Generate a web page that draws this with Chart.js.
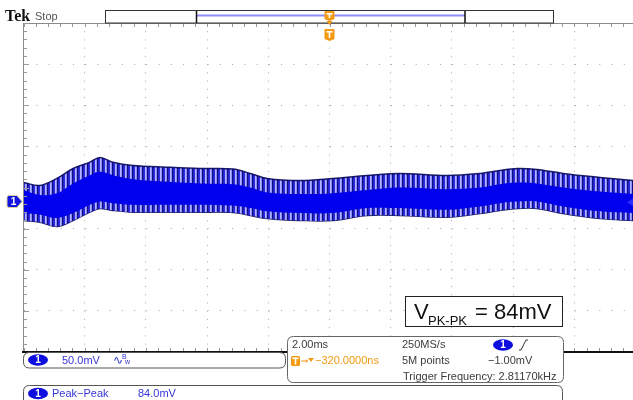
<!DOCTYPE html>
<html>
<head>
<meta charset="utf-8">
<script src="https://cdn.jsdelivr.net/npm/chart.js@4.4.1/dist/chart.umd.min.js"></script>
<style>
  html, body { margin: 0; padding: 0; background: #fff; overflow: hidden; }
  #wrap { width: 640px; height: 400px; position: relative; }
</style>
</head>
<body>
<div id="wrap"><canvas id="scope" width="640" height="400"></canvas></div>
<script>
// Channel 1 acquisition: 50 mV/div, 2 ms/div, trigger at screen centre
const CH1_OFFSET_MV = 17;        // value at the vertical centre of the screen
const TRIGGER_LEVEL_MV = -1.0;

// Time grid (ms) and voltage grid (mV)
const timeGridMs = [-10, -8, -6, -4, -2, 0, 2, 4, 6, 8, 10];
const voltGridMv = [-183, -133, -83, -33, 17, 67, 117, 167, 217];

// Ripple envelope of the channel 1 trace
const timeMs       = [-10.0, -9.46, -8.91, -8.38, -7.83, -7.50, -7.08, -6.42, -5.31, -4.23, -3.15, -2.59, -2.04, -0.96, 0.11, 1.23, 2.30, 3.84, 4.92, 5.57, 6.13, 6.78, 7.63, 8.84, 9.92];
const upperMv      = [23.1, 19.5, 28.0, 40.1, 47.8, 53.6, 47.8, 43.8, 41.7, 40.1, 39.5, 34.1, 28.0, 25.5, 28.0, 31.6, 34.1, 31.6, 34.1, 37.7, 40.1, 38.9, 34.1, 29.2, 25.5];
const lowerMv      = [-23.1, -25.2, -30.4, -23.1, -13.0, -8.5, -10.9, -13.0, -13.0, -13.0, -13.4, -17.0, -20.7, -23.1, -23.1, -17.0, -17.0, -19.1, -14.6, -10.9, -8.5, -8.5, -14.6, -20.7, -23.1];
const coreTopMv    = [14, 8, 10, 22, 32, 36, 32, 27, 24, 22, 21, 17, 11, 9, 10, 14, 17, 15, 17, 21, 23, 22, 17, 12, 9];
const coreBottomMv = [-14, -16, -20, -14, -4, 0, -2, -4, -4, -4, -5, -8, -12, -14, -14, -8, -8, -10, -6, -2, 0, 0, -6, -12, -14];

// Readouts
const chScaleText = '50.0mV';
const timebaseText = '2.00ms';
const sampleRateText = '250MS/s';
const recordText = '5M points';
const trigDelayText = '\u2212320.0000ns';
const trigLevelText = '\u22121.00mV';
const trigFreqText = 'Trigger Frequency: 2.81170kHz';
const measName = 'Peak\u2212Peak';
const measValue = '84.0mV';

const pts = arr => arr.map((v, i) => ({ x: timeMs[i], y: v }));

// vertical stripe texture for the spiky part of the trace
function stripePattern() {
  const c = document.createElement('canvas');
  c.width = 5; c.height = 1;
  const g = c.getContext('2d');
  const cols = ['#b4b4ff', '#8c8cff', '#10107e', '#2222cc', '#2c2ce4'];
  cols.forEach((col, i) => { g.fillStyle = col; g.fillRect(i, 0, 1, 1); });
  return document.getElementById('scope').getContext('2d').createPattern(c, 'repeat');
}

function roundRect(ctx, x, y, w, h, r) {
  ctx.beginPath();
  ctx.moveTo(x + r, y);
  ctx.lineTo(x + w - r, y);
  ctx.quadraticCurveTo(x + w, y, x + w, y + r);
  ctx.lineTo(x + w, y + h - r);
  ctx.quadraticCurveTo(x + w, y + h, x + w - r, y + h);
  ctx.lineTo(x + r, y + h);
  ctx.quadraticCurveTo(x, y + h, x, y + h - r);
  ctx.lineTo(x, y + r);
  ctx.quadraticCurveTo(x, y, x + r, y);
  ctx.closePath();
}

function pill(ctx, cx, cy, label) {
  ctx.fillStyle = '#0d0de0';
  ctx.beginPath();
  ctx.ellipse(cx, cy, 10, 5.8, 0, 0, Math.PI * 2);
  ctx.fill();
  ctx.fillStyle = '#fff';
  ctx.font = 'bold 10px "Liberation Sans", sans-serif';
  ctx.textAlign = 'center';
  ctx.textBaseline = 'middle';
  ctx.fillText(label, cx, cy + 0.5);
  ctx.textAlign = 'left';
}

function triggerBadge(ctx, cx, top, h) {
  ctx.fillStyle = '#f39a12';
  ctx.beginPath();
  ctx.moveTo(cx - 5, top + 1);
  ctx.quadraticCurveTo(cx - 5, top, cx - 4, top);
  ctx.lineTo(cx + 4, top);
  ctx.quadraticCurveTo(cx + 5, top, cx + 5, top + 1);
  ctx.lineTo(cx + 5, top + h - 2);
  ctx.lineTo(cx, top + h);
  ctx.lineTo(cx - 5, top + h - 2);
  ctx.closePath();
  ctx.fill();
  ctx.fillStyle = '#fff';
  ctx.fillRect(cx - 3, top + 2, 6, 1.6);
  ctx.fillRect(cx - 0.8, top + 2, 1.6, h - 5);
}

const scopeDecor = {
  id: 'scopeDecor',
  afterDraw(chart) {
    const { ctx, chartArea: a, scales: { x, y } } = chart;
    ctx.save();

    // screen frame with minor ticks
    ctx.strokeStyle = '#8a8a8a';
    ctx.lineWidth = 1;
    ctx.beginPath();
    ctx.moveTo(a.left, 23.5); ctx.lineTo(a.right, 23.5);
    ctx.moveTo(23.5, a.top); ctx.lineTo(23.5, a.bottom);
    ctx.stroke();
    ctx.strokeStyle = '#9a9a9a';
    ctx.beginPath();
    for (let t = -10; t <= 10.001; t += 0.4) {
      const px = Math.round(x.getPixelForValue(t)) + 0.5;
      ctx.moveTo(px, 24); ctx.lineTo(px, 27);
      ctx.moveTo(px, a.bottom - 4); ctx.lineTo(px, a.bottom - 1);
    }
    for (let v = voltGridMv[0]; v <= voltGridMv[voltGridMv.length - 1] + 0.1; v += 10) {
      const py = Math.round(y.getPixelForValue(v)) + 0.5;
      const major = Math.abs(((v - voltGridMv[0]) % 50)) < 0.1;
      ctx.moveTo(24, py); ctx.lineTo(major ? 29 : 27, py);
    }
    ctx.stroke();
    ctx.strokeStyle = '#111';
    ctx.lineWidth = 2;
    ctx.beginPath();
    ctx.moveTo(22, a.bottom); ctx.lineTo(a.right, a.bottom);
    ctx.stroke();

    // record view bar
    ctx.lineWidth = 1;
    ctx.fillStyle = '#fff';
    ctx.strokeStyle = '#333';
    ctx.fillRect(105.5, 10.5, 448, 12.5);
    ctx.strokeRect(105.5, 10.5, 448, 12.5);
    ctx.strokeStyle = '#8c8cf5';
    ctx.lineWidth = 2;
    ctx.beginPath(); ctx.moveTo(197, 15.5); ctx.lineTo(465, 15.5); ctx.stroke();
    ctx.strokeStyle = '#111';
    ctx.lineWidth = 1.5;
    ctx.beginPath();
    ctx.moveTo(196.5, 11); ctx.lineTo(196.5, 23);
    ctx.moveTo(465, 11); ctx.lineTo(465, 23);
    ctx.stroke();

    // trigger position markers
    const tx = x.getPixelForValue(0);
    triggerBadge(ctx, tx, 11, 10);
    ctx.fillStyle = '#f39a12';
    ctx.beginPath(); ctx.moveTo(tx - 3, 21); ctx.lineTo(tx + 3, 21); ctx.lineTo(tx, 25); ctx.closePath(); ctx.fill();
    triggerBadge(ctx, tx, 29, 12);

    // channel 1 ground marker
    const gy = y.getPixelForValue(0);
    ctx.fillStyle = '#1414e0';
    ctx.strokeStyle = '#d8cf98';
    ctx.lineWidth = 1;
    ctx.beginPath();
    ctx.moveTo(9, gy - 6); ctx.lineTo(17, gy - 6); ctx.lineTo(22, gy);
    ctx.lineTo(17, gy + 6); ctx.lineTo(9, gy + 6);
    ctx.quadraticCurveTo(7, gy + 6, 7, gy + 4); ctx.lineTo(7, gy - 4);
    ctx.quadraticCurveTo(7, gy - 6, 9, gy - 6);
    ctx.closePath(); ctx.fill(); ctx.stroke();
    ctx.fillStyle = '#fff';
    ctx.font = 'bold 10px "Liberation Sans", sans-serif';
    ctx.textAlign = 'center'; ctx.textBaseline = 'middle';
    ctx.fillText('1', 13.5, gy + 0.5);

    // trigger level marker
    const ly = y.getPixelForValue(TRIGGER_LEVEL_MV);
    ctx.fillStyle = '#2a2aff';
    ctx.beginPath(); ctx.moveTo(627, ly); ctx.lineTo(633, ly - 4); ctx.lineTo(633, ly + 4); ctx.closePath(); ctx.fill();

    // Tek / Stop
    ctx.textAlign = 'left'; ctx.textBaseline = 'alphabetic';
    ctx.fillStyle = '#111';
    ctx.font = 'bold 16px "Liberation Serif", serif';
    ctx.fillText('Tek', 5, 21);
    ctx.fillStyle = '#555';
    ctx.font = '11px "Liberation Sans", sans-serif';
    ctx.fillText('Stop', 35, 20);

    // peak-to-peak annotation
    ctx.fillStyle = '#fff';
    ctx.fillRect(405.5, 296.5, 157, 30);
    ctx.strokeStyle = '#222';
    ctx.lineWidth = 1;
    ctx.strokeRect(405.5, 296.5, 157, 30);
    ctx.fillStyle = '#111';
    ctx.font = '22px "Liberation Sans", sans-serif';
    ctx.fillText('V', 414, 319);
    ctx.font = '13px "Liberation Sans", sans-serif';
    ctx.fillText('PK-PK', 428, 324.5);
    ctx.font = '22px "Liberation Sans", sans-serif';
    ctx.fillText('= 84mV', 475, 319);

    // channel readout box
    ctx.strokeStyle = '#555';
    ctx.fillStyle = '#fff';
    roundRect(ctx, 23.5, 352.5, 262, 15.5, 6);
    ctx.fill(); ctx.stroke();
    pill(ctx, 38, 360, '1');
    ctx.fillStyle = '#3535d8';
    ctx.font = '11px "Liberation Sans", sans-serif';
    ctx.textBaseline = 'middle';
    ctx.fillText(chScaleText, 62, 360.5);
    ctx.font = '12px "DejaVu Sans", sans-serif';
    ctx.fillText('\u223F', 113, 360.5);
    ctx.font = '7px "Liberation Sans", sans-serif';
    ctx.fillText('B', 122, 357);
    ctx.fillText('w', 125, 362);

    // measurement box
    ctx.strokeStyle = '#555';
    ctx.fillStyle = '#fff';
    roundRect(ctx, 23.5, 385.5, 539, 28, 6);
    ctx.fill(); ctx.stroke();
    pill(ctx, 38, 393.5, '1');
    ctx.fillStyle = '#3535d8';
    ctx.font = '11px "Liberation Sans", sans-serif';
    ctx.textBaseline = 'middle';
    ctx.fillText(measName, 52, 394);
    ctx.fillText(measValue, 138, 394);

    // timebase / trigger box
    ctx.strokeStyle = '#666';
    ctx.fillStyle = '#fff';
    roundRect(ctx, 287.5, 336.5, 276, 46, 6);
    ctx.fill(); ctx.stroke();
    ctx.fillStyle = '#3c3c3c';
    ctx.font = '11px "Liberation Sans", sans-serif';
    ctx.textBaseline = 'middle';
    ctx.fillText(timebaseText, 292, 345);
    ctx.fillText(sampleRateText, 402, 345);
    ctx.fillText(recordText, 402, 361);
    ctx.fillText(trigLevelText, 488, 361);
    ctx.fillText(trigFreqText, 403, 377);
    pill(ctx, 503, 345, '1');
    ctx.strokeStyle = '#333';
    ctx.lineWidth = 1;
    ctx.beginPath();
    ctx.moveTo(519, 350); ctx.lineTo(521, 350); ctx.lineTo(526, 340); ctx.lineTo(528, 340);
    ctx.stroke();
    // trigger delay readout
    ctx.fillStyle = '#f39a12';
    roundRect(ctx, 291, 356, 9, 10, 1.5); ctx.fill();
    ctx.fillStyle = '#fff';
    ctx.fillRect(292.5, 357.5, 6, 1.6);
    ctx.fillRect(294.7, 357.5, 1.6, 7);
    ctx.strokeStyle = '#f39a12';
    ctx.beginPath(); ctx.moveTo(301, 361); ctx.lineTo(306, 361); ctx.stroke();
    ctx.fillStyle = '#f39a12';
    ctx.beginPath(); ctx.moveTo(306, 359); ctx.lineTo(308, 361); ctx.lineTo(306, 363); ctx.closePath(); ctx.fill();
    ctx.beginPath(); ctx.moveTo(308, 358); ctx.lineTo(314, 358); ctx.lineTo(311, 362); ctx.closePath(); ctx.fill();
    ctx.font = '11px "Liberation Sans", sans-serif';
    ctx.fillText(trigDelayText, 315, 361);

    ctx.restore();
  }
};

const stripes = stripePattern();

new Chart(document.getElementById('scope'), {
  type: 'line',
  data: {
    datasets: [
      { label: 'core top', data: pts(coreTopMv), fill: '+1', backgroundColor: '#0000ec',
        borderWidth: 0, borderColor: 'rgba(0,0,0,0)', pointRadius: 0, tension: 0.35 },
      { label: 'core bottom', data: pts(coreBottomMv), fill: false,
        borderWidth: 0, borderColor: 'rgba(0,0,0,0)', pointRadius: 0, tension: 0.35 },
      { label: 'upper', data: pts(upperMv), fill: '+1', backgroundColor: stripes,
        borderWidth: 1.5, borderColor: 'rgba(8,8,90,0.9)', pointRadius: 0, tension: 0.35 },
      { label: 'lower', data: pts(lowerMv), fill: false,
        borderWidth: 1.5, borderColor: 'rgba(8,8,90,0.9)', pointRadius: 0, tension: 0.35 }
    ]
  },
  options: {
    responsive: false,
    animation: false,
    devicePixelRatio: 1,
    layout: { padding: { left: 23.5, right: 4.5, top: 23, bottom: 48 } },
    plugins: { legend: { display: false }, tooltip: { enabled: false } },
    scales: {
      x: {
        type: 'linear', min: -10, max: 10,
        afterBuildTicks: s => { s.ticks = timeGridMs.map(v => ({ value: v })); },
        ticks: { display: false },
        grid: { color: '#a8a8a8', lineWidth: 1, drawTicks: false },
        border: { display: false, dash: [1, 7.22] }
      },
      y: {
        type: 'linear', min: CH1_OFFSET_MV - 200, max: CH1_OFFSET_MV + 200,
        afterBuildTicks: s => { s.ticks = voltGridMv.map(v => ({ value: v })); },
        ticks: { display: false },
        grid: { color: '#a8a8a8', lineWidth: 1, drawTicks: false },
        border: { display: false, dash: [1, 11.24] }
      }
    }
  },
  plugins: [scopeDecor]
});
</script>
</body>
</html>
